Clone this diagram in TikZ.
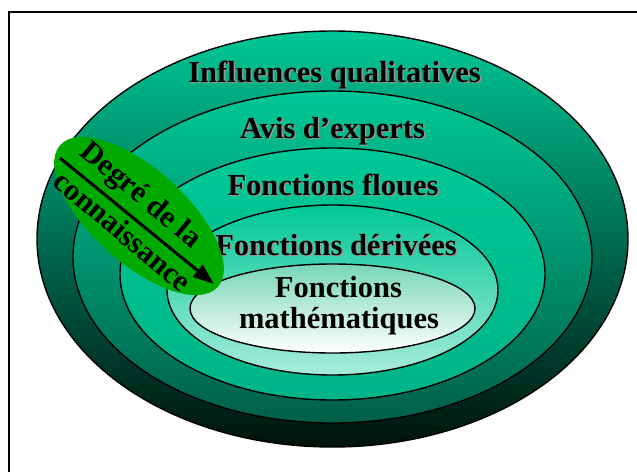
\documentclass[tikz,border=0pt]{standalone}
\usepackage{fontspec}
\setmainfont{Liberation Serif}
\usetikzlibrary{shapes.geometric,arrows.meta}

\definecolor{tealtop}{RGB}{0,200,150}
\definecolor{ringdark}{RGB}{0,18,12}
\definecolor{ringmid}{RGB}{0,95,72}
\definecolor{ringlow}{RGB}{0,180,136}
\definecolor{mintlow}{RGB}{168,236,218}
\definecolor{minttop}{RGB}{120,214,184}
\definecolor{mintmid}{RGB}{222,246,238}
\definecolor{leafgreen}{RGB}{0,170,0}
\definecolor{shadowgray}{RGB}{150,150,150}

% bold label with a small grey drop shadow
\newcommand\shadowtext[1]{\rlap{\kern1.5pt\raisebox{-1.5pt}{\color{shadowgray}#1}}#1}

\tikzset{
  layer/.style={ellipse, draw=black, line width=1.4pt, inner sep=0pt},
  lbl/.style={font=\fontsize{30.5}{34}\selectfont\bfseries, inner sep=0pt, anchor=base},
  leaflbl/.style={font=\fontsize{30.5}{34}\selectfont\bfseries, inner sep=0pt, rotate=-40},
}

\begin{document}
\begin{tikzpicture}[x=1pt, y=-1pt]
\useasboundingbox (0,0) rectangle (637,472);

% frame (continues past the right and bottom edges)
\draw[line width=1.6pt] (9,472) -- (9,12) -- (637,12);

% nested knowledge layers, outermost first
\node[layer, minimum width=591pt, minimum height=416pt,
      top color=tealtop, bottom color=ringdark] (qual) at (332.5,239) {};
\node[layer, minimum width=519pt, minimum height=332pt,
      top color=tealtop, bottom color=ringmid] (avis) at (332.5,257) {};
\node[layer, minimum width=425pt, minimum height=252pt,
      top color=tealtop, bottom color=ringlow] (floues) at (332.5,274) {};
\node[layer, minimum width=331pt, minimum height=170pt,
      top color=tealtop, bottom color=mintlow] (derivees) at (332.5,290) {};
\node[layer, minimum width=285pt, minimum height=89pt,
      top color=minttop, middle color=mintmid, bottom color=white] (maths) at (332.5,308.5) {};

% layer labels
\node[lbl] (tqual) at (334.5,82) {\shadowtext{Influences qualitatives}};
\node[lbl] (tavis) at (332.5,138) {\shadowtext{Avis d’experts}};
\node[lbl] (tfloues) at (333,195) {\shadowtext{Fonctions floues}};
\node[lbl] (tderiv) at (336,255) {\shadowtext{Fonctions dérivées}};
\node[lbl] (tmath1) at (338.5,297) {Fonctions};
\node[lbl] (tmath2) at (339,328) {mathématiques};

% knowledge-degree leaf with its arrow
\node[ellipse, fill=leafgreen, inner sep=0pt, minimum width=212pt,
      minimum height=94pt, rotate=-42] (leaf) at (139,216) {};
\coordinate (arrtail) at (60,158);
\coordinate (arrtip) at (214,284);
\draw[line width=3pt, -{Triangle[length=21pt,width=15pt]}] (arrtail) -- (arrtip);
\node[leaflbl] (tdegre) at (140,196) {Degré de la};
\node[leaflbl] (tconn) at (123,231) {connaissance};
\end{tikzpicture}
\end{document}
